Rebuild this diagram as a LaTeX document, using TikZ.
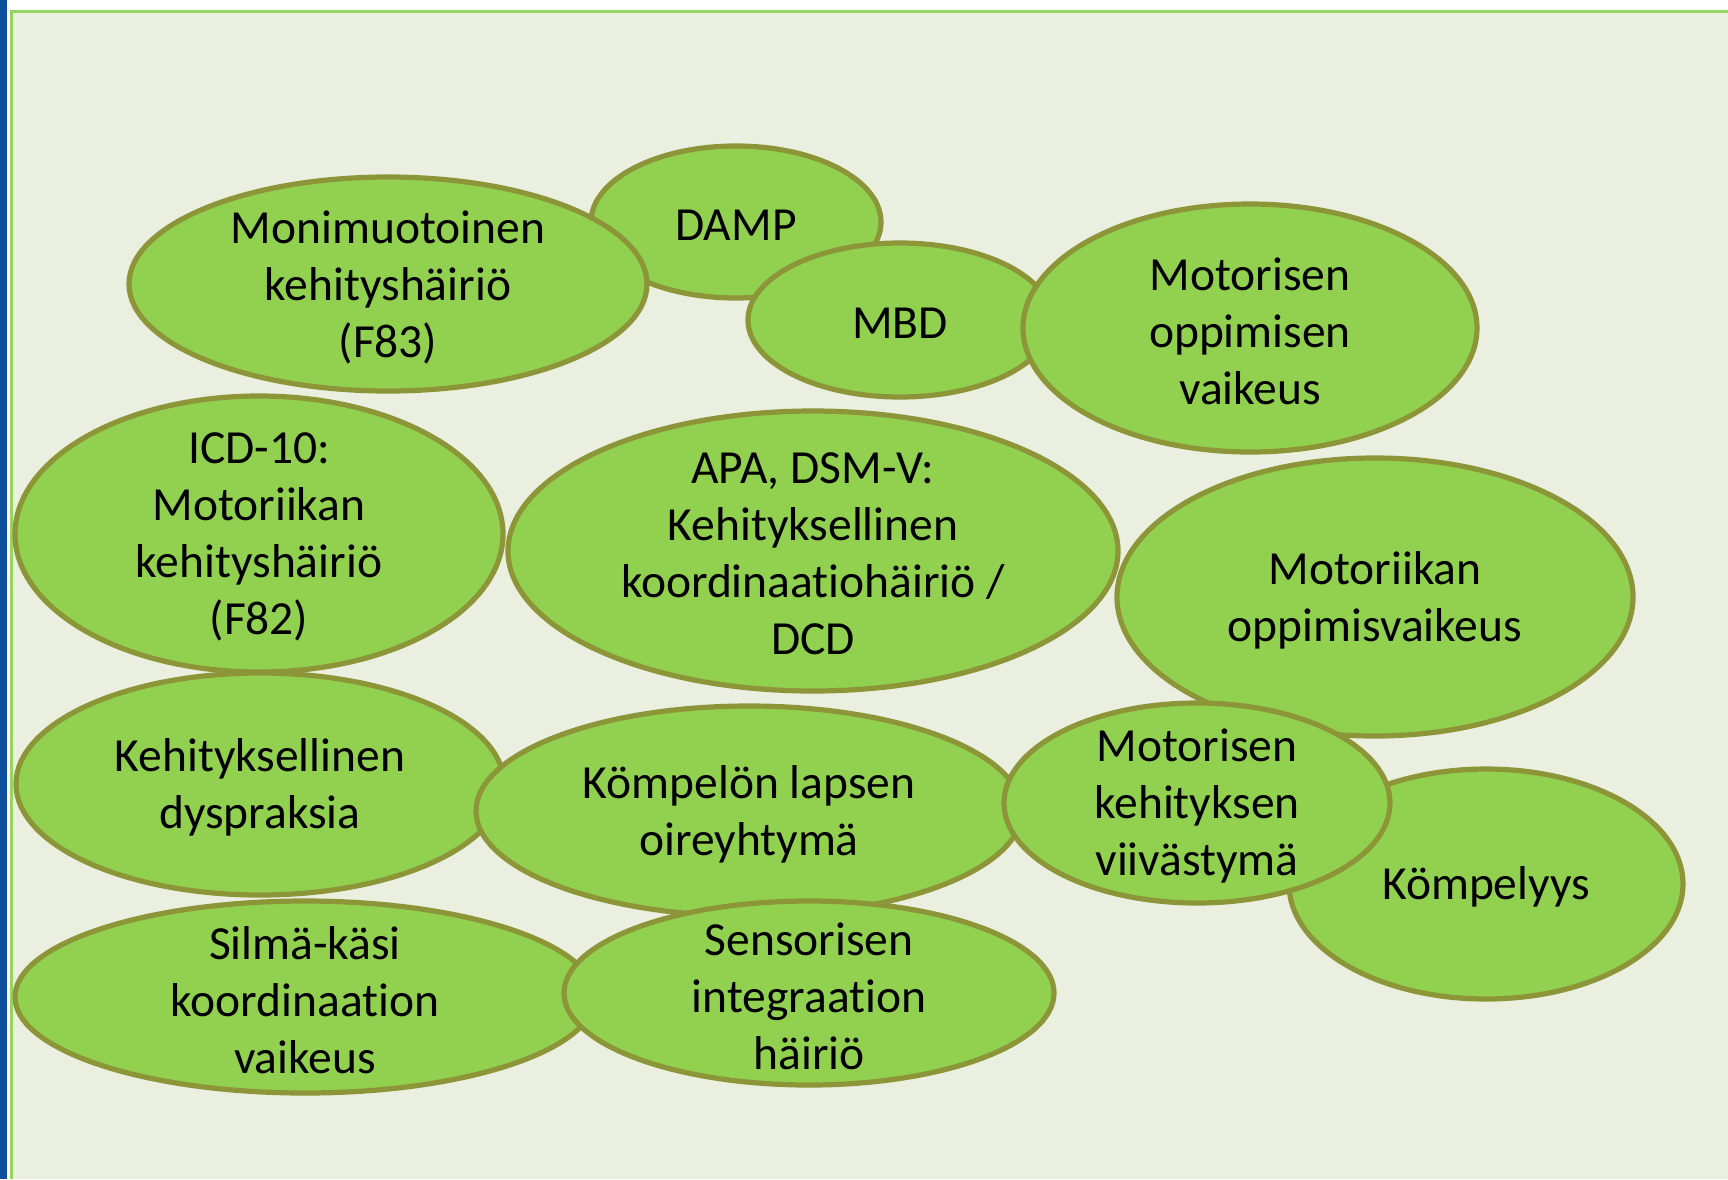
\documentclass[tikz,border=0pt]{standalone}
\usepackage{fontspec}
\setmainfont{Carlito}[Ligatures={NoCommon}]
\definecolor{bubfill}{HTML}{92D050}
\definecolor{bubline}{HTML}{8C9638}
\definecolor{panel}{HTML}{EBEFDF}
\definecolor{panelline}{HTML}{96D563}
\definecolor{stripblue}{HTML}{0B4F9E}
\newcommand\bubblenode[6]{%
  \filldraw[bubble] (#2,#3) ellipse [x radius=#4, y radius=#5];
  \node[lbl] (#1) at (#2,#3+3) {#6};}
\begin{document}
\begin{tikzpicture}[x=0.5pt,y=-0.5pt,
  bubble/.style={fill=bubfill,draw=bubline,line width=2.6pt},
  lbl/.style={align=center,inner sep=0pt,text=black,font=\fontsize{23.75}{28.5}\selectfont}]
\useasboundingbox (0,0) rectangle (1728,1179);
\fill[white] (0,0) rectangle (1728,1179);
\fill[panel] (10,10) rectangle (1728,1179);
\draw[panelline,line width=1.3pt] (11.5,1179) -- (11.5,11.5) -- (1728,11.5);
\fill[stripblue] (0,0) rectangle (7,1179);

\bubblenode{damp}{736}{222}{145}{76}{DAMP}
\bubblenode{moni}{388}{284}{259}{107}{Monimuotoinen\\kehityshäiriö\\(F83)}
\bubblenode{mbd}{900}{320}{152}{77}{MBD}
\bubblenode{motopp}{1250}{328}{227}{124}{Motorisen\\oppimisen\\vaikeus}
\bubblenode{icd}{259}{534}{244}{138}{ICD-10:\\Motoriikan\\kehityshäiriö\\(F82)}
\bubblenode{apa}{813}{551}{305}{140}{APA, DSM-V:\\Kehityksellinen\\koordinaatiohäiriö /\\DCD}
\bubblenode{motvaik}{1375}{597}{258}{139}{Motoriikan\\oppimisvaikeus}
\bubblenode{dysp}{260}{784}{244}{111}{Kehityksellinen\\dyspraksia}
\bubblenode{komplapsi}{749}{811}{273}{105}{Kömpelön lapsen\\oireyhtymä}
\bubblenode{kompelyys}{1486}{884}{197}{115}{Kömpelyys}
\bubblenode{motkeh}{1197}{803}{193}{100}{Motorisen\\kehityksen\\viivästymä}
\bubblenode{silma}{305}{997}{290}{96}{Silmä-käsi\\koordinaation\\vaikeus}
\bubblenode{sens}{809}{993}{245}{92}{Sensorisen\\integraation\\häiriö}
\end{tikzpicture}
\end{document}
